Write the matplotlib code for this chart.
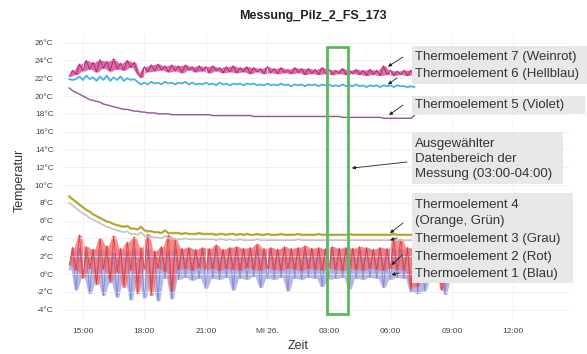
import numpy as np
import matplotlib.pyplot as plt
from matplotlib.patches import Rectangle

plt.rcParams['font.family'] = ['Liberation Sans', 'DejaVu Sans']

# Messzeit in Stunden ab Mitternacht (25.), Intervall 10 min, Start 14:20
start = 14 + 20 / 60
zeit = start + np.arange(115) / 6

# Thermoelement 7 (Weinrot)
te7 = [22.2, 22.9, 22.4, 23.6, 22.8, 24.0, 23.0, 23.8, 22.7, 24.1,
       23.1, 23.9, 22.8, 24.2, 23.0, 23.7, 22.9, 24.0, 23.2, 23.8,
       22.6, 22.1, 23.3, 22.7, 23.5, 22.8, 23.6, 22.9, 23.4, 22.7,
       23.5, 22.8, 23.4, 22.6, 23.5, 22.9, 23.3, 22.7, 23.4, 22.8,
       23.3, 22.6, 23.4, 22.8, 23.2, 22.6, 23.3, 22.7, 23.4, 22.6,
       23.2, 22.7, 23.3, 22.5, 23.2, 22.7, 23.1, 22.5, 23.3, 22.6,
       23.1, 22.5, 23.2, 22.6, 23.0, 22.5, 23.2, 22.6, 23.1, 22.4,
       23.1, 22.5, 23.0, 22.4, 23.2, 22.5, 23.0, 22.4, 22.9, 22.5,
       23.1, 22.4, 22.9, 22.5, 23.0, 22.4, 22.9, 22.3, 23.0, 22.4,
       22.9, 22.3, 23.4, 22.4, 22.9, 22.3, 22.8, 22.4, 22.9, 22.3,
       22.9, 22.4]
# Thermoelement 6 (Hellblau)
te6 = [21.9, 21.8, 21.9, 22.2, 21.8, 22.3, 21.9, 22.1, 21.7, 22.2,
       21.8, 22.3, 21.7, 22.1, 21.8, 22.2, 21.7, 22.0, 21.8, 21.9,
       21.6, 21.3, 21.5, 21.3, 21.6, 21.4, 21.5, 21.3, 21.6, 21.4,
       21.5, 21.3, 21.5, 21.4, 21.6, 21.3, 21.5, 21.3, 21.4, 21.3,
       21.5, 21.3, 21.4, 21.2, 21.5, 21.3, 21.4, 21.2, 21.4, 21.3,
       21.4, 21.2, 21.4, 21.3, 21.4, 21.2, 21.3, 21.2, 21.4, 21.2,
       21.3, 21.2, 21.4, 21.2, 21.3, 21.1, 21.3, 21.2, 21.3, 21.1,
       21.3, 21.2, 21.3, 21.1, 21.3, 21.2, 21.3, 21.1, 21.2, 21.1,
       21.3, 21.1, 21.2, 21.1, 21.3, 21.1, 21.2, 21.0, 21.2, 21.1,
       21.2, 21.0, 21.2, 21.1, 21.2, 21.0, 21.2, 21.1, 21.1, 21.0,
       21.1, 21.0]
# Thermoelement 5 (Violet)
te5 = [20.9, 20.6, 20.4, 20.2, 20.0, 19.8, 19.6, 19.5, 19.4, 19.3,
       19.1, 19.0, 18.9, 18.8, 18.7, 18.6, 18.5, 18.5, 18.4, 18.3,
       18.3, 18.2, 18.2, 18.1, 18.1, 18.1, 18.0, 18.0, 18.0, 18.0,
       17.9, 17.9, 17.9, 17.9, 17.9, 17.9, 17.9, 17.9, 17.9, 17.9,
       17.9, 17.9, 17.8, 17.8, 17.8, 17.8, 17.8, 17.8, 17.8, 17.8,
       17.8, 17.8, 17.8, 17.8, 17.7, 17.7, 17.7, 17.7, 17.7, 17.7,
       17.7, 17.7, 17.7, 17.7, 17.7, 17.7, 17.7, 17.7, 17.7, 17.7,
       17.7, 17.7, 17.7, 17.7, 17.7, 17.7, 17.7, 17.7, 17.7, 17.7,
       17.6, 17.6, 17.6, 17.6, 17.6, 17.6, 17.6, 17.6, 17.6, 17.6,
       17.6, 17.6, 17.5, 17.5, 17.5, 17.5, 17.5, 17.5, 17.5, 17.5,
       17.5, 17.8]
# Thermoelement 4 (Orange, Gruen)
te4 = [8.7, 8.4, 8.1, 7.8, 7.5, 7.2, 7.0, 6.7, 6.5, 6.3,
       6.1, 5.9, 5.8, 5.6, 5.5, 5.4, 5.3, 5.4, 5.1, 5.1,
       5.0, 5.3, 4.9, 4.8, 4.8, 4.7, 4.7, 4.6, 4.9, 4.6,
       4.6, 4.6, 4.6, 4.5, 4.6, 4.5, 4.5, 4.5, 4.6, 4.5,
       4.5, 4.5, 4.5, 4.4, 4.5, 4.5, 4.4, 4.5, 4.5, 4.4,
       4.5, 4.4, 4.5, 4.4, 4.4, 4.5, 4.4, 4.4, 4.5, 4.4,
       4.4, 4.4, 4.5, 4.4, 4.4, 4.4, 4.4, 4.5, 4.4, 4.4,
       4.4, 4.4, 4.4, 4.5, 4.4, 4.4, 4.4, 4.4, 4.4, 4.4,
       4.4, 4.4, 4.5, 4.4, 4.4, 4.4, 4.4, 4.4, 4.4, 4.4,
       4.4, 4.4, 4.4, 4.4, 4.4, 4.5, 4.4, 4.4, 4.4, 4.4,
       4.4, 4.4]
# Thermoelement 3 (Grau)
te3 = [8.0, 7.7, 7.4, 7.1, 6.8, 6.6, 6.3, 6.1, 5.9, 5.7,
       5.5, 5.3, 5.2, 5.0, 4.9, 4.8, 4.7, 4.8, 4.5, 4.5,
       4.4, 4.7, 4.3, 4.2, 4.2, 4.1, 4.1, 4.0, 4.3, 4.0,
       4.0, 4.0, 3.9, 3.9, 4.0, 3.9, 3.9, 3.9, 3.9, 3.9,
       3.9, 3.9, 3.9, 3.8, 3.9, 3.9, 3.8, 3.9, 3.8, 3.8,
       3.9, 3.8, 3.8, 3.8, 3.8, 3.9, 3.8, 3.8, 3.8, 3.8,
       3.8, 3.8, 3.8, 3.8, 3.8, 3.8, 3.8, 3.9, 3.8, 3.8,
       3.8, 3.8, 3.8, 3.8, 3.8, 3.8, 3.8, 3.8, 3.8, 3.8,
       3.8, 3.8, 3.8, 3.8, 3.8, 3.8, 3.8, 3.8, 3.8, 3.8,
       3.8, 3.8, 3.8, 3.8, 3.8, 3.8, 3.8, 3.8, 3.8, 3.8,
       3.8, 3.8]
# Thermoelement 2 (Rot)
te2 = [1.0, 3.0, 0.4, 4.4, -0.5, 3.1, 0.6, 2.8, -1.2, 4.0,
       0.5, 3.2, -0.8, 4.3, 0.2, 2.9, -1.5, 3.6, 0.4, 4.2,
       -2.2, 3.0, 0.5, 4.5, -2.4, 2.6, 0.6, 3.1, 0.3, 4.4,
       -2.0, 3.9, 0.5, 2.9, 0.6, 3.0, 0.4, 2.8, 0.7, 3.0,
       0.5, 2.9, 0.6, 3.3, 0.4, 2.8, 0.6, 3.0, 0.5, 3.1,
       0.4, 2.9, 0.7, 3.0, 0.5, 3.4, 0.4, 2.9, 0.6, 3.0,
       0.5, 2.8, 0.4, 3.1, 0.6, 2.9, 0.5, 3.0, 0.4, 3.2,
       0.6, 2.9, 0.5, 3.0, 0.4, 2.8, 0.6, 3.1, 0.5, 2.9,
       0.4, 3.0, 0.6, 2.9, 0.5, 3.1, 0.4, 3.0, 0.6, 2.8,
       0.5, 3.0, 0.4, 2.9, 0.6, 4.0, 0.5, 3.9, 0.4, 3.0,
       -1.6, 2.9, -1.4, 3.0, 0.5, 2.8, 0.6, 3.0, 0.4, -1.8,
       0.5, 2.9, 0.6, 3.0, 0.5]
# Thermoelement 1 (Blau)
te1 = [0.5, 2.6, -1.8, 2.9, -0.4, 2.5, -2.2, 2.8, -0.8, 2.7,
       -2.4, 2.9, -1.0, 2.4, -2.6, 2.8, -0.6, 2.6, -2.9, 2.9,
       -0.9, 2.5, -2.7, 2.8, -1.2, 2.6, -3.0, 2.9, -0.5, 2.7,
       -2.8, 2.9, -0.6, 2.8, -0.4, 2.9, -0.7, 2.7, -0.5, 2.9,
       -1.6, 2.8, -0.5, 2.9, -0.6, 2.7, -0.4, 2.9, -1.8, 2.8,
       -0.5, 2.9, -0.6, 2.8, -0.3, 2.9, -1.5, 2.7, -0.5, 2.9,
       -0.6, 2.8, -0.4, 2.9, -1.9, 2.8, -0.5, 2.9, -0.6, 2.7,
       -0.4, 2.9, -0.5, 2.8, -1.4, 2.9, -0.6, 2.8, -0.5, 2.9,
       -0.4, 2.8, -1.7, 2.9, -0.5, 2.7, -0.6, 2.9, -0.4, 2.8,
       -0.5, 2.9, -1.5, 2.8, -0.6, 2.9, -0.4, 2.8, -0.5, 2.9,
       -2.0, 2.8, -2.2, 2.7, -1.9, 2.9, -0.5, 2.8, -0.6, 2.9,
       -2.3, 2.8, -0.5, 2.9, -0.6]

# Achsen
x_ticks = [15, 18, 21, 24, 27, 30, 33, 36]
x_labels = ['15:00', '18:00', '21:00', 'Mi 26.', '03:00', '06:00', '09:00', '12:00']
y_ticks = list(range(-4, 27, 2))
y_labels = [f'{v}°C' for v in y_ticks]

# ausgewaehlter Bereich 03:00-04:00
auswahl = (26.9, 27.93)

fig = plt.figure(figsize=(5.87, 3.54), dpi=100)
ax = fig.add_axes([0.1056, 0.096, 0.8654, 0.805])


def kurve(werte, farbe, lw, fuell=None, band=None, alpha=1.0):
    w = np.asarray(werte)
    x = zeit[:len(w)]
    if fuell is not None:
        # Streuband zwischen benachbarten Messwerten
        xm = np.concatenate(([x[0]], (x[:-1] + x[1:]) / 2, [x[-1]]))
        lo = np.concatenate(([w[0]], np.minimum(w[:-1], w[1:]), [w[-1]]))
        hi = np.concatenate(([w[0]], np.maximum(w[:-1], w[1:]), [w[-1]]))
        ax.fill_between(xm, lo, hi, color=band or farbe, alpha=fuell, lw=0)
    ax.plot(x, w, color=farbe, lw=lw, alpha=alpha)


kurve(te1, '#5a62c8', 0.6, fuell=0.5, band='#6c74d0', alpha=0.6)
kurve(te2, '#e83434', 0.6, fuell=0.8, band='#f47272', alpha=0.9)
kurve(te3, '#c4c4c4', 1.2)
kurve(te4, '#e6b84a', 1.8)
kurve(te4, '#8aa83c', 0.8)
kurve(te5, '#8c5a91', 1.0)
kurve(te6, '#45b5e0', 1.3)
kurve(te7, '#c0227a', 0.7, fuell=0.65)

ax.add_patch(Rectangle((auswahl[0], -4.5), auswahl[1] - auswahl[0], 30.0,
                       fill=False, ec='#5cb85c', lw=2.0, zorder=5))

ax.set_xlim(13.98, 38.76)
ax.set_ylim(-5.17, 26.85)
ax.set_xticks(x_ticks)
ax.set_xticklabels(x_labels)
ax.set_yticks(y_ticks)
ax.set_yticklabels(y_labels)
ax.tick_params(length=0, labelsize=6, colors='#444444', pad=6)
ax.grid(True, color='#f0f0f0', lw=0.6)
for s in ax.spines.values():
    s.set_visible(False)


def fx(px):
    return px / 587


def fy(py):
    return 1 - py / 354


fig.text(fx(313), fy(16), 'Messung_Pilz_2_FS_173', ha='center', va='center',
         fontsize=9, fontweight='bold', color='#222222')
fig.text(fx(20), fy(180), 'Temperatur', rotation=90, ha='center', va='center',
         fontsize=9, color='#333333')
fig.text(fx(298), fy(346), 'Zeit', ha='center', va='center', fontsize=9, color='#333333')

# Beschriftungsboxen
boxen = [(412, 46, 587, 84), (412, 96, 585, 114), (412, 132, 563, 184), (412, 193, 573, 283)]
for x0, y0, x1, y1 in boxen:
    fig.patches.append(Rectangle((fx(x0), fy(y1)), fx(x1) - fx(x0), fy(y0) - fy(y1),
                                 transform=fig.transFigure, fc='#e8e8e8', ec='none', zorder=2))

texte = [(57, 'Thermoelement 7 (Weinrot)'), (74, 'Thermoelement 6 (Hellblau)'),
         (105, 'Thermoelement 5 (Violet)'), (144, 'Ausgewählter'),
         (159, 'Datenbereich der'), (174, 'Messung (03:00-04:00)'),
         (205, 'Thermoelement 4'), (221, '(Orange, Grün)'),
         (239, 'Thermoelement 3 (Grau)'), (257, 'Thermoelement 2 (Rot)'),
         (274, 'Thermoelement 1 (Blau)')]
for py, s in texte:
    fig.text(fx(415), fy(py), s, ha='left', va='center', fontsize=9.5,
             color='#333333', zorder=3)

# Pfeile: Start (Pixel), Ziel (Zeit, Temperatur)
pfeile = [((403, 57), (29.88, 23.3)), ((397, 78), (29.88, 21.3)),
          ((403, 105), (29.93, 17.85)), ((407, 162), (28.12, 11.9)),
          ((403, 223), (29.98, 4.6)), ((397, 238), (29.98, 3.8)),
          ((402, 255), (30.05, 1.0)), ((399, 273), (30.05, -0.1))]
for (px, py), ziel in pfeile:
    ax.annotate('', xy=ziel, xytext=(px, 354 - py), textcoords='figure pixels',
                annotation_clip=False,
                arrowprops=dict(arrowstyle='-|>', color='#222222', lw=0.6,
                                mutation_scale=5, shrinkA=0, shrinkB=0), zorder=6)

fig.savefig('out.png', dpi=100)
